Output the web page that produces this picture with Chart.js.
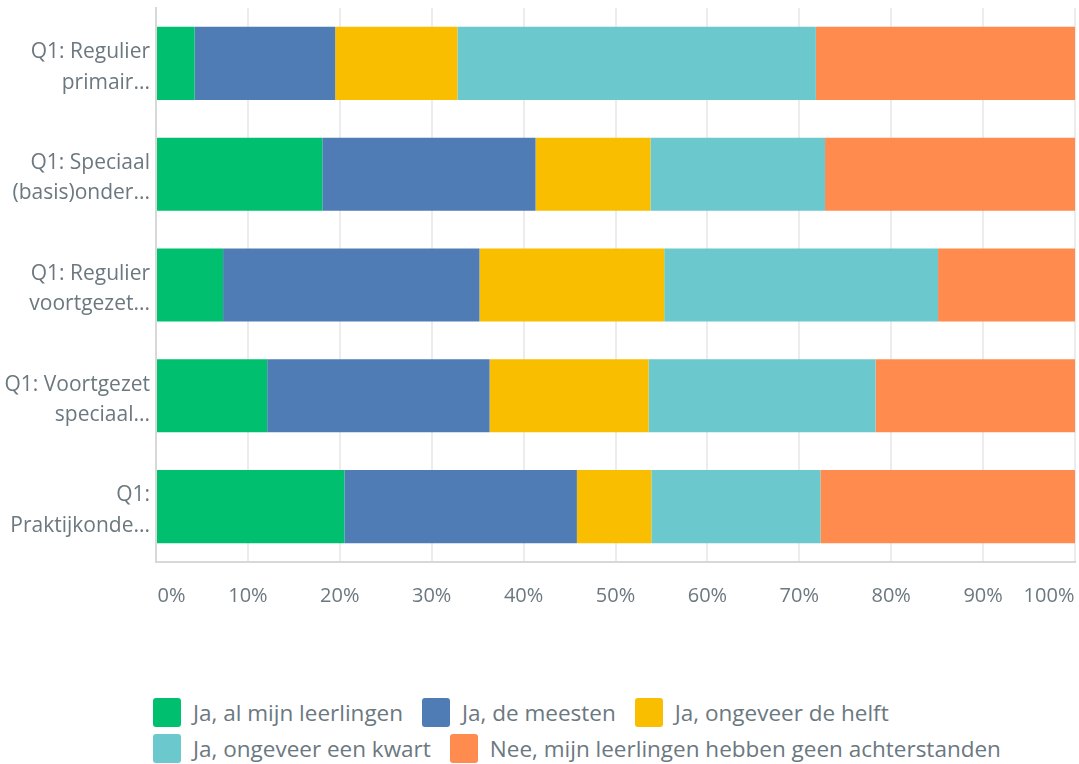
<!DOCTYPE html>
<html>
<head>
<meta charset="utf-8">
<script src="https://cdn.jsdelivr.net/npm/chart.js@4.4.1/dist/chart.umd.min.js"></script>
<style>
	html, body { margin : 0; padding : 0; background : #ffffff; }
	#wrap { position : relative; width : 1079px; height : 764px; overflow : hidden; }
	#chart-box { position : absolute; left : 0; top : 0; width : 1079px; height : 622px; }
	#legend { position : absolute; left : 153px; top : 698px; width : 900px; font-family : 'Open Sans', sans-serif; font-size : 22.5px; color : #6b787f; }
	#legend .item { display : inline-flex; align-items : center; height : 29px; margin : 0 19px 7px 0; white-space : nowrap; }
	#legend .box { display : inline-block; width : 28px; height : 29px; border-radius : 3px; margin-right : 12px; }
</style>
</head>
<body>
<div id="wrap">
	<div id="chart-box"><canvas id="survey-chart" width="1079" height="622"></canvas></div>
	<div id="legend"></div>
</div>
<script>
// categories (y axis)
var categories = [
	['Q1: Regulier', 'primair...'],
	['Q1: Speciaal', '(basis)onder...'],
	['Q1: Regulier', 'voortgezet...'],
	['Q1: Voortgezet', 'speciaal...'],
	['Q1:', 'Praktijkonde...']
];
// series names
var seriesNames = [
	'Ja, al mijn leerlingen',
	'Ja, de meesten',
	'Ja, ongeveer de helft',
	'Ja, ongeveer een kwart',
	'Nee, mijn leerlingen hebben geen achterstanden'
];
var seriesColors = ['#00bf6f', '#507cb6', '#f9be00', '#6bc8cd', '#ff8b4f'];
// values (%)
var valuesAll = [4.2, 18.1, 7.3, 12.1, 20.5];
var valuesMost = [15.3, 23.2, 27.9, 24.2, 25.3];
var valuesHalf = [13.3, 12.5, 20.1, 17.3, 8.1];
var valuesQuarter = [39.0, 19.0, 29.8, 24.7, 18.4];
var valuesNone = [28.2, 27.2, 14.9, 21.7, 27.7];
// x axis ticks
var tickValues = [0, 10, 20, 30, 40, 50, 60, 70, 80, 90, 100];

var textColor = '#6b787f';
var surveyChart;

initView();

/**
 * init view
 * @returns
 */
function initView() {
	createChart();
	drawLegend();
}

/**
 * x tick label, first one pushed right and last one pushed left
 * @returns
 */
function tickLabel(value) {
	var label = value + '%';
	if (value === tickValues[0]) {
		return '      ' + label;
	}
	if (value === tickValues[tickValues.length - 1]) {
		return label + '          ';
	}
	return label;
}

/**
 * create chart
 * @returns
 */
function createChart() {
	var seriesValues = [valuesAll, valuesMost, valuesHalf, valuesQuarter, valuesNone];
	var datasets = [];
	seriesNames.forEach(function(name, i) {
		datasets.push({
			label : name,
			data : seriesValues[i],
			backgroundColor : seriesColors[i],
			borderWidth : 0,
			barPercentage : 1,
			categoryPercentage : 0.66
		});
	});

	surveyChart = new Chart(document.getElementById('survey-chart'), {
		type : 'bar',
		data : {
			labels : categories,
			datasets : datasets
		},
		options : {
			indexAxis : 'y',
			responsive : false,
			animation : false,
			layout : {
				padding : { top : 8, right : 4, left : 0, bottom : 0 }
			},
			plugins : {
				legend : { display : false },
				tooltip : { enabled : false }
			},
			scales : {
				x : {
					stacked : true,
					min : 0,
					max : 100,
					afterBuildTicks : function(scale) {
						scale.ticks = tickValues.map(function(v) { return { value : v }; });
					},
					afterFit : function(scale) {
						scale.height = 60;
						scale.paddingLeft = 0;
						scale.paddingRight = 0;
					},
					grid : {
						color : '#ececec',
						lineWidth : 2,
						drawTicks : false
					},
					border : {
						display : true,
						color : '#d8d8d8',
						width : 2
					},
					ticks : {
						autoSkip : false,
						maxRotation : 0,
						minRotation : 0,
						padding : 22,
						color : textColor,
						font : { family : 'Open Sans', size : 20 },
						callback : function(value) {
							return tickLabel(value);
						}
					}
				},
				y : {
					stacked : true,
					afterFit : function(scale) {
						scale.width = 156;
						scale.paddingTop = 0;
						scale.paddingBottom = 0;
					},
					grid : {
						display : false,
						drawTicks : false
					},
					border : {
						display : true,
						color : '#d8d8d8',
						width : 2
					},
					ticks : {
						padding : 6,
						labelOffset : 4,
						color : textColor,
						font : { family : 'Open Sans', size : 21, lineHeight : 1.45 }
					}
				}
			}
		}
	});
}

/**
 * html legend from datasets
 * @returns
 */
function drawLegend() {
	var legend = document.getElementById('legend');
	surveyChart.data.datasets.forEach(function(ds) {
		var item = document.createElement('span');
		item.className = 'item';
		var box = document.createElement('span');
		box.className = 'box';
		box.style.background = ds.backgroundColor;
		item.appendChild(box);
		item.appendChild(document.createTextNode(ds.label));
		legend.appendChild(item);
	});
}
</script>
</body>
</html>
